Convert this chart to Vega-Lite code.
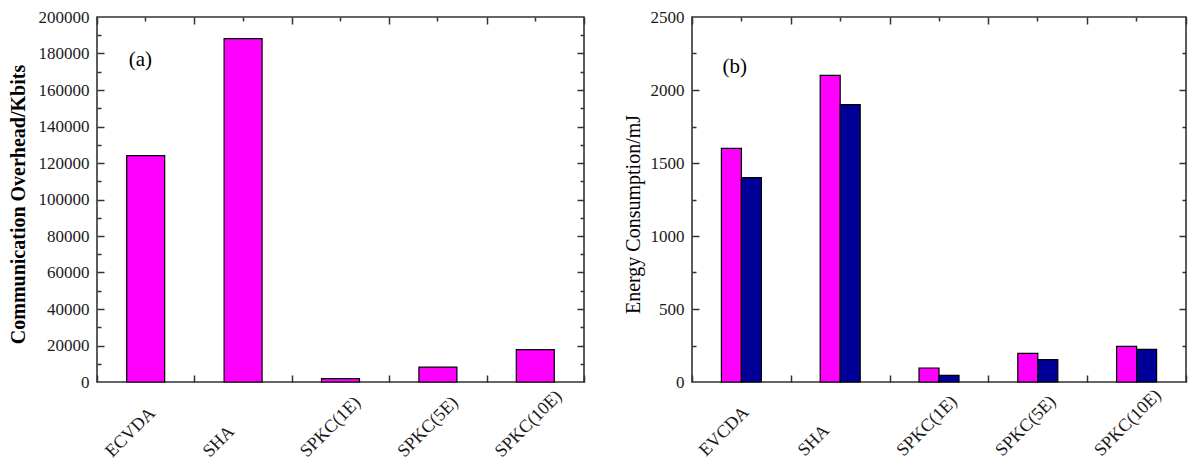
{
  "$schema": "https://vega.github.io/schema/vega-lite/v6.json",
  "padding": {"left": 7, "top": -203, "right": 0, "bottom": 0},
  "background": "white",
  "datasets": {
    "comm": [
      {"scheme": "ECVDA", "overhead": 124000},
      {"scheme": "SHA", "overhead": 188200},
      {"scheme": "SPKC(1E)", "overhead": 1800},
      {"scheme": "SPKC(5E)", "overhead": 8100},
      {"scheme": "SPKC(10E)", "overhead": 17700}
    ],
    "energy": [
      {"scheme": "EVCDA", "series": "A", "energy": 1600},
      {"scheme": "EVCDA", "series": "B", "energy": 1400},
      {"scheme": "SHA", "series": "A", "energy": 2100},
      {"scheme": "SHA", "series": "B", "energy": 1900},
      {"scheme": "SPKC(1E)", "series": "A", "energy": 96},
      {"scheme": "SPKC(1E)", "series": "B", "energy": 46},
      {"scheme": "SPKC(5E)", "series": "A", "energy": 196},
      {"scheme": "SPKC(5E)", "series": "B", "energy": 153},
      {"scheme": "SPKC(10E)", "series": "A", "energy": 244},
      {"scheme": "SPKC(10E)", "series": "B", "energy": 223}
    ],
    "tagA": [{"tag": "(a)"}],
    "tagB": [{"tag": "(b)"}]
  },
  "config": {
    "view": {"stroke": "#333333", "strokeWidth": 1.6},
    "axis": {
      "labelFont": "Liberation Serif",
      "titleFont": "Liberation Serif",
      "labelFontSize": 17,
      "labelColor": "#1a1a1a",
      "titleColor": "#000000",
      "tickColor": "#333333",
      "tickWidth": 1.5,
      "grid": false,
      "minExtent": 0
    }
  },
  "spacing": 36,
  "hconcat": [
    {
      "width": 487,
      "height": 365,
      "data": {"name": "comm"},
      "layer": [
        {
          "mark": {"type": "bar", "color": "#FF00FF", "stroke": "#000000", "strokeWidth": 1.2},
          "encoding": {
            "x": {"field": "scheme", "type": "nominal", "scale": {"domain": ["ECVDA", "SHA", "SPKC(1E)", "SPKC(5E)", "SPKC(10E)"], "paddingInner": 0.61, "paddingOuter": 0.305},
              "axis": {"orient": "bottom", "title": null, "ticks": false, "domain": false, "labelAngle": -45, "labelAlign": "left", "labelBaseline": "middle", "labelPadding": 72, "labelOffset": -37, "labelFontSize": 18}},
            "y": {"field": "overhead", "type": "quantitative", "scale": {"domain": [0, 200000], "nice": false},
              "axis": {"orient": "left", "title": "Communication Overhead/Kbits", "titleFontSize": 20, "titleFontWeight": "bold", "titlePadding": 10, "titleY": 187, "ticks": false, "domain": false, "labelPadding": 8, "format": "d", "values": [0, 20000, 40000, 60000, 80000, 100000, 120000, 140000, 160000, 180000, 200000]}}
          }
        },
        {
          "data": {"name": "tagA"},
          "mark": {"type": "text", "font": "Liberation Serif", "fontSize": 21, "align": "left", "baseline": "alphabetic", "dx": -17, "color": "#000000"},
          "encoding": {
            "text": {"field": "tag"},
            "x": {"datum": "ECVDA", "type": "nominal", "scale": {"domain": ["ECVDA", "SHA", "SPKC(1E)", "SPKC(5E)", "SPKC(10E)"], "paddingInner": 0.61, "paddingOuter": 0.305}, "axis": null},
            "y": {"datum": 173000, "type": "quantitative", "scale": {"domain": [0, 200000], "nice": false}, "axis": null}
          }
        },
        {
          "mark": {"type": "bar", "opacity": 0},
          "encoding": {
            "x": {"field": "scheme", "type": "nominal", "scale": {"domain": ["ECVDA", "SHA", "SPKC(1E)", "SPKC(5E)", "SPKC(10E)"], "paddingInner": 0, "paddingOuter": 0},
              "axis": {"orient": "bottom", "title": null, "labels": false, "domain": false, "tickBand": "extent", "tickSize": 7, "offset": -7}},
            "y": {"field": "overhead", "type": "quantitative", "scale": {"domain": [0, 200000], "nice": false},
              "axis": {"orient": "left", "title": null, "labels": false, "domain": false, "tickSize": 7, "offset": -7, "values": [20000, 40000, 60000, 80000, 100000, 120000, 140000, 160000, 180000]}}
          }
        },
        {
          "mark": {"type": "bar", "opacity": 0},
          "encoding": {
            "x": {"field": "scheme", "type": "nominal", "scale": {"domain": ["ECVDA", "SHA", "SPKC(1E)", "SPKC(5E)", "SPKC(10E)"], "paddingInner": 0, "paddingOuter": 0},
              "axis": {"orient": "bottom", "title": null, "labels": false, "domain": false, "tickBand": "center", "tickSize": 4, "offset": -4}},
            "y": {"field": "overhead", "type": "quantitative", "scale": {"domain": [0, 200000], "nice": false},
              "axis": {"orient": "left", "title": null, "labels": false, "domain": false, "tickSize": 4, "offset": -4, "values": [10000, 30000, 50000, 70000, 90000, 110000, 130000, 150000, 170000, 190000]}}
          }
        },
        {
          "mark": {"type": "bar", "opacity": 0},
          "encoding": {
            "x": {"field": "scheme", "type": "nominal", "scale": {"domain": ["ECVDA", "SHA", "SPKC(1E)", "SPKC(5E)", "SPKC(10E)"], "paddingInner": 0, "paddingOuter": 0},
              "axis": {"orient": "top", "title": null, "labels": false, "domain": false, "tickBand": "extent", "tickSize": 7, "offset": -7}},
            "y": {"field": "overhead", "type": "quantitative", "scale": {"domain": [0, 200000], "nice": false},
              "axis": {"orient": "right", "title": null, "labels": false, "domain": false, "tickSize": 7, "offset": -7, "values": [20000, 40000, 60000, 80000, 100000, 120000, 140000, 160000, 180000]}}
          }
        },
        {
          "mark": {"type": "bar", "opacity": 0},
          "encoding": {
            "x": {"field": "scheme", "type": "nominal", "scale": {"domain": ["ECVDA", "SHA", "SPKC(1E)", "SPKC(5E)", "SPKC(10E)"], "paddingInner": 0, "paddingOuter": 0},
              "axis": {"orient": "top", "title": null, "labels": false, "domain": false, "tickBand": "center", "tickSize": 4, "offset": -4}},
            "y": {"field": "overhead", "type": "quantitative", "scale": {"domain": [0, 200000], "nice": false},
              "axis": {"orient": "right", "title": null, "labels": false, "domain": false, "tickSize": 4, "offset": -4, "values": [10000, 30000, 50000, 70000, 90000, 110000, 130000, 150000, 170000, 190000]}}
          }
        }
      ],
      "resolve": {"scale": {"x": "independent", "y": "independent"}, "axis": {"x": "independent", "y": "independent"}}
    },
    {
      "width": 494,
      "height": 365,
      "data": {"name": "energy"},
      "layer": [
        {
          "mark": {"type": "bar", "stroke": "#000000", "strokeWidth": 1.2},
          "encoding": {
            "x": {"field": "scheme", "type": "nominal", "scale": {"domain": ["EVCDA", "SHA", "SPKC(1E)", "SPKC(5E)", "SPKC(10E)"], "paddingInner": 0.595, "paddingOuter": 0.2975},
              "axis": {"orient": "bottom", "title": null, "ticks": false, "domain": false, "labelAngle": -45, "labelAlign": "left", "labelBaseline": "middle", "labelPadding": 71, "labelOffset": -39, "labelFontSize": 18}},
            "xOffset": {"field": "series", "type": "nominal", "scale": {"domain": ["A", "B"], "paddingInner": 0, "paddingOuter": 0}},
            "y": {"field": "energy", "type": "quantitative", "scale": {"domain": [0, 2500], "nice": false},
              "axis": {"orient": "left", "title": "Energy Consumption/mJ", "titleFontSize": 20, "titleFontWeight": "normal", "titlePadding": 7, "titleY": 197, "ticks": false, "domain": false, "labelPadding": 8, "format": "d", "values": [0, 500, 1000, 1500, 2000, 2500]}},
            "color": {"field": "series", "type": "nominal", "scale": {"domain": ["A", "B"], "range": ["#FF00FF", "#000099"]}, "legend": null}
          }
        },
        {
          "data": {"name": "tagB"},
          "mark": {"type": "text", "font": "Liberation Serif", "fontSize": 21, "align": "left", "baseline": "alphabetic", "dx": -19, "color": "#000000"},
          "encoding": {
            "text": {"field": "tag"},
            "x": {"datum": "EVCDA", "type": "nominal", "scale": {"domain": ["EVCDA", "SHA", "SPKC(1E)", "SPKC(5E)", "SPKC(10E)"], "paddingInner": 0.595, "paddingOuter": 0.2975}, "axis": null},
            "y": {"datum": 2115, "type": "quantitative", "scale": {"domain": [0, 2500], "nice": false}, "axis": null}
          }
        },
        {
          "mark": {"type": "bar", "opacity": 0},
          "encoding": {
            "x": {"field": "scheme", "type": "nominal", "scale": {"domain": ["EVCDA", "SHA", "SPKC(1E)", "SPKC(5E)", "SPKC(10E)"], "paddingInner": 0, "paddingOuter": 0},
              "axis": {"orient": "bottom", "title": null, "labels": false, "domain": false, "tickBand": "extent", "tickSize": 7, "offset": -7}},
            "y": {"field": "energy", "type": "quantitative", "scale": {"domain": [0, 2500], "nice": false},
              "axis": {"orient": "left", "title": null, "labels": false, "domain": false, "tickSize": 7, "offset": -7, "values": [500, 1000, 1500, 2000]}}
          }
        },
        {
          "mark": {"type": "bar", "opacity": 0},
          "encoding": {
            "x": {"field": "scheme", "type": "nominal", "scale": {"domain": ["EVCDA", "SHA", "SPKC(1E)", "SPKC(5E)", "SPKC(10E)"], "paddingInner": 0, "paddingOuter": 0},
              "axis": {"orient": "bottom", "title": null, "labels": false, "domain": false, "tickBand": "center", "tickSize": 4, "offset": -4}},
            "y": {"field": "energy", "type": "quantitative", "scale": {"domain": [0, 2500], "nice": false},
              "axis": {"orient": "left", "title": null, "labels": false, "domain": false, "tickSize": 4, "offset": -4, "values": [250, 750, 1250, 1750, 2250]}}
          }
        },
        {
          "mark": {"type": "bar", "opacity": 0},
          "encoding": {
            "x": {"field": "scheme", "type": "nominal", "scale": {"domain": ["EVCDA", "SHA", "SPKC(1E)", "SPKC(5E)", "SPKC(10E)"], "paddingInner": 0, "paddingOuter": 0},
              "axis": {"orient": "top", "title": null, "labels": false, "domain": false, "tickBand": "extent", "tickSize": 7, "offset": -7}},
            "y": {"field": "energy", "type": "quantitative", "scale": {"domain": [0, 2500], "nice": false},
              "axis": {"orient": "right", "title": null, "labels": false, "domain": false, "tickSize": 7, "offset": -7, "values": [500, 1000, 1500, 2000]}}
          }
        },
        {
          "mark": {"type": "bar", "opacity": 0},
          "encoding": {
            "x": {"field": "scheme", "type": "nominal", "scale": {"domain": ["EVCDA", "SHA", "SPKC(1E)", "SPKC(5E)", "SPKC(10E)"], "paddingInner": 0, "paddingOuter": 0},
              "axis": {"orient": "top", "title": null, "labels": false, "domain": false, "tickBand": "center", "tickSize": 4, "offset": -4}},
            "y": {"field": "energy", "type": "quantitative", "scale": {"domain": [0, 2500], "nice": false},
              "axis": {"orient": "right", "title": null, "labels": false, "domain": false, "tickSize": 4, "offset": -4, "values": [250, 750, 1250, 1750, 2250]}}
          }
        }
      ],
      "resolve": {"scale": {"x": "independent", "y": "independent"}, "axis": {"x": "independent", "y": "independent"}}
    }
  ]
}
